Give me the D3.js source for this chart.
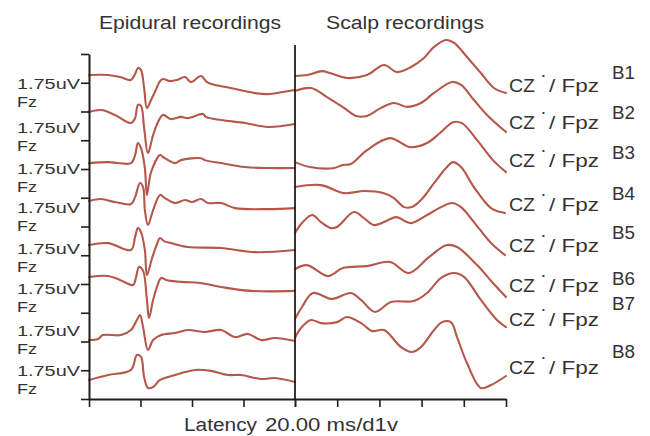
<!DOCTYPE html>
<html>
<head>
<meta charset="utf-8">
<script src="https://cdn.jsdelivr.net/npm/d3@7/dist/d3.min.js"></script>
<style>
  html, body { margin: 0; padding: 0; background: #ffffff; }
  svg { display: block; }
  text { font-family: "Liberation Sans", Arial, sans-serif; fill: #333; }
</style>
</head>
<body>
<svg id="chart" width="650" height="436"></svg>
<script>
// Block names, channel names and scale text
const blocks = ["B1", "B2", "B3", "B4", "B5", "B6", "B7", "B8"];
const epiduralChannel = "Fz";
const scalpChannelA = "CZ";
const scalpMark = "•";
const scalpChannelB = "/ Fpz";
const gainLabel = "1.75uV";
const latencyLabel = "Latency";
const divisionLabel = "20.00 ms/d1v";
const panelTitles = ["Epidural recordings", "Scalp recordings"];

// Axis divisions: 1.75 uV per vertical division, 20 ms per horizontal division
const uvPerDiv = 1.75;
const verticalDivs = 12;
const msPerDiv = 20;
const epiduralSpanMs = 80;
const scalpSpanMs = 100;

// Display offset of each trace's baseline (uV on the stacked scale)
const epiduralOffsets = [19.72, 17.47, 14.36, 12.05, 9.37, 7.43, 3.59, 1.16];
const scalpOffsets = [19.66, 18.75, 14.42, 12.90, 10.10, 7.91, 4.87, 3.71];

// Epidural waveforms: [latency ms, amplitude uV]
const epidural = [
  [[0,0],[7.4,0],[12.0,-0.12],[16.3,-0.30],[17.9,0.06],[19.0,0.43],[20.2,0.30],[21.4,-0.79],[22.5,-2.01],[24.1,-1.52],[25.6,-1.03],[27.6,-0.37],[28.7,-0.24],[31.5,-0.37],[34.2,-0.30],[37.3,-0.12],[39.6,-0.43],[43.5,-0.06],[45.8,-0.43],[48.9,-0.61],[53.2,-0.73],[58.6,-0.91],[64.5,-1.10],[69.5,-1.16],[75.3,-1.03],[80,-0.91]],
  [[0,0],[4.7,0.12],[10.1,-0.18],[16.3,-0.67],[17.9,-0.37],[19.0,0.43],[20.2,0.37],[21.4,-0.97],[22.9,-2.50],[24.9,-1.40],[26.8,-0.61],[28.7,-0.18],[31.8,-0.43],[35.7,-0.30],[38.4,-0.37],[44.3,-0.12],[45.4,-0.30],[51.3,-0.49],[60.6,-0.67],[69.5,-0.91],[80,-0.73]],
  [[0,0],[7.4,0.06],[16.3,0],[17.9,0.49],[19.0,1.22],[20.2,0.91],[21.7,-0.30],[22.5,-1.95],[24.1,-0.55],[27.6,0.49],[28.7,0.37],[33.4,0],[35.7,0.18],[43.5,0.30],[45.0,0.18],[51.3,0],[60.6,-0.24],[69.5,-0.30],[80,-0.30]],
  [[0,0],[4.7,0.12],[10.1,-0.06],[16.3,-0.18],[17.9,0.24],[19.8,1.10],[21.0,0.85],[21.7,-0.55],[22.9,-1.46],[24.9,-0.55],[27.6,0.37],[29.5,0.18],[33.4,-0.12],[37.3,0.06],[40.0,-0.06],[43.5,0.12],[46.2,-0.12],[51.3,-0.12],[56.7,-0.43],[69.5,-0.49],[80,-0.43]],
  [[0,0],[7.4,0.12],[16.3,-0.30],[17.9,0.49],[19.0,1.03],[20.2,0.79],[21.7,-0.30],[22.5,-1.83],[24.5,-0.79],[26.4,0.06],[27.6,0.43],[29.1,0.24],[31.8,0.12],[38.4,-0.12],[51.3,-0.18],[64.5,-0.43],[80,-0.30]],
  [[0,0],[7.4,0.06],[12.0,-0.18],[17.1,-0.49],[18.3,0],[19.4,0.61],[21.0,0.37],[22.5,-1.40],[23.3,-2.50],[24.9,-1.40],[26.4,-0.61],[28.0,-0.06],[29.9,-0.18],[35.7,-0.30],[43.1,-0.37],[51.3,-0.61],[62.9,-0.85],[80,-0.85]],
  [[0,0],[3.5,0.06],[5.4,0.30],[12.4,0.30],[16.3,0.61],[18.6,1.22],[19.8,1.52],[21.0,0.79],[22.9,-0.61],[24.9,0],[28.0,0.30],[33.4,0.43],[38.4,0.61],[45.0,0.49],[51.3,0.61],[56.7,0.18],[61.7,0.37],[66.8,0],[72.2,0.12],[80,-0.06]],
  [[0,0],[7.4,0.30],[16.3,0.61],[18.6,1.52],[20.2,1.40],[21.4,0.18],[22.9,-0.49],[24.9,-0.43],[27.6,0],[33.4,0.30],[41.2,0.61],[47.4,0.55],[54.0,0.30],[59.0,0.30],[66.8,0.06],[72.2,0.12],[80,-0.12]]
];

// Scalp waveforms: [latency ms, amplitude uV]
const scalp = [
  [[0,0],[5.7,0.06],[12.8,0.30],[16.6,0.18],[24.6,-0.12],[34.1,0.06],[42.2,0.67],[48.3,0.24],[55.0,0.55],[61.1,1.10],[65.9,1.77],[71.6,2.19],[75.4,2.01],[81.5,1.16],[88.1,0.18],[94.3,-0.73],[100,-1.03]],
  [[0,0],[7.6,0.18],[15.2,-0.37],[23.2,-1.03],[28.9,-1.52],[34.1,-1.52],[40.8,-1.03],[46.9,-0.73],[53.1,-0.97],[59.7,-0.73],[65.9,-0.12],[74.4,0.55],[78.7,0.37],[84.8,-0.55],[91.0,-1.46],[100,-2.50]],
  [[0,0],[7.1,-0.30],[18.0,-0.37],[22.7,-0.18],[26.5,-0.12],[34.1,0.73],[45.0,1.46],[54.5,0.91],[62.6,1.16],[68.7,1.77],[74.9,2.43],[79.1,2.37],[86.3,1.34],[93.8,0.12],[100,-0.61]],
  [[0,0],[12.3,0.12],[23.2,-0.37],[32.7,-0.24],[42.2,-0.37],[46.9,-0.67],[51.7,-1.22],[55.4,-1.22],[59.7,-0.79],[65.9,0.24],[71.6,1.16],[74.9,1.52],[78.7,1.22],[84.8,0],[92.9,-1.28],[99.5,-1.58]],
  [[0,0],[3.3,0.61],[8.1,1.10],[12.3,0.67],[17.1,0.30],[19.9,0.37],[28.0,1.28],[32.7,0.91],[37.4,0.49],[42.2,0.67],[47.9,0.97],[53.1,0.67],[55.4,0.61],[62.6,1.10],[69.2,1.58],[74.4,1.83],[78.7,1.58],[84.8,0.67],[92.9,-0.61],[99.5,-1.34]],
  [[0,0],[5.7,0.24],[15.6,-0.43],[22.7,0.06],[34.1,0.18],[45.0,0.43],[54.0,-0.24],[63.5,0.73],[72.0,1.46],[76.8,1.34],[86.3,0.24],[93.8,-0.85],[100,-1.70]],
  [[0,0],[3.3,0.73],[8.5,1.58],[17.5,1.22],[26.5,1.58],[31.3,1.16],[37.9,0.43],[45.5,1.03],[56.4,1.10],[62.6,1.58],[69.2,2.50],[75.4,2.80],[80.1,2.56],[88.1,1.16],[95.7,-0.06],[100,-0.49]],
  [[0,0],[2.8,0.61],[7.6,1.10],[12.3,0.91],[19.9,0.97],[24.6,1.28],[31.3,0.91],[36.5,0.43],[42.2,0.49],[50.2,-0.55],[55.4,-0.85],[59.7,-0.55],[65.9,0.49],[69.7,0.97],[73.9,0.97],[76.8,0.06],[81.5,-1.52],[88.1,-3.04],[92.9,-2.86],[100,-2.31]]
];

// ---- layout ----
const layout = {
  left: 89, mid: 295, right: 506, top: 54, bottom: 399, dividerTop: 45,
  gainBaselines: [89, 133, 174, 213, 254, 294, 336, 376],
  channelGap: 17.5,
  gainFont: 15.5,
  scalpLabelBaselines: [92, 129, 167, 211, 252, 292, 326, 374],
  blockBaselines: [79, 119, 159, 200, 239, 285, 310, 358]
};
const traceColor = "#b5574b";
const axisColor = "#1e1e1e";

const svg = d3.select("#chart");
svg.append("rect").attr("width", 650).attr("height", 436).attr("fill", "#ffffff");

const y = d3.scaleLinear().domain([0, uvPerDiv * verticalDivs]).range([layout.bottom, layout.top]);
const xEpi = d3.scaleLinear().domain([0, epiduralSpanMs]).range([layout.left, layout.mid]);
const xScalp = d3.scaleLinear().domain([0, scalpSpanMs]).range([layout.mid, layout.right]);

// traces
function drawTraces(set, offsets, x) {
  const line = d3.line()
    .x(d => x(d[0]))
    .y(d => d[2])
    .curve(d3.curveCatmullRom.alpha(0.5));
  svg.append("g").selectAll("path")
    .data(set.map((trace, i) => trace.map(p => [p[0], p[1], y(offsets[i] + p[1])])))
    .join("path")
    .attr("d", line)
    .attr("fill", "none")
    .attr("stroke", traceColor)
    .attr("stroke-width", 2.1)
    .attr("stroke-linejoin", "round")
    .attr("stroke-linecap", "round");
}
drawTraces(epidural, epiduralOffsets, xEpi);
drawTraces(scalp, scalpOffsets, xScalp);

// vertical amplitude axis
const yAxis = d3.axisLeft(y)
  .tickValues(d3.range(0, verticalDivs + 1).map(i => i * uvPerDiv))
  .tickSize(8).tickSizeOuter(0).tickFormat("");
const gy = svg.append("g").attr("transform", `translate(${layout.left},0)`).call(yAxis);

// latency axes, one per panel
const xAxisEpi = d3.axisBottom(xEpi)
  .tickValues(d3.range(0, epiduralSpanMs + 1, msPerDiv))
  .tickSize(8).tickSizeOuter(0).tickFormat("");
const xAxisScalp = d3.axisBottom(xScalp)
  .tickValues(d3.range(0, scalpSpanMs + 1, msPerDiv))
  .tickSize(8).tickSizeOuter(0).tickFormat("");
const gx1 = svg.append("g").attr("transform", `translate(0,${layout.bottom})`).call(xAxisEpi);
const gx2 = svg.append("g").attr("transform", `translate(0,${layout.bottom})`).call(xAxisScalp);

[gy, gx1, gx2].forEach(g => {
  g.selectAll("path.domain").attr("stroke", axisColor).attr("stroke-width", 2);
  g.selectAll(".tick line").attr("stroke", axisColor).attr("stroke-width", 1.6);
});

// divider between the two panels
svg.append("line")
  .attr("x1", layout.mid).attr("x2", layout.mid)
  .attr("y1", layout.dividerTop).attr("y2", layout.bottom)
  .attr("stroke", axisColor).attr("stroke-width", 1.8);

// helper for stretched text
function label(txt, x, yb, len, size = 18) {
  return svg.append("text")
    .attr("x", x).attr("y", yb)
    .attr("font-size", size)
    .attr("textLength", len)
    .attr("lengthAdjust", "spacingAndGlyphs")
    .text(txt);
}

// panel titles
label(panelTitles[0], 99, 29, 182);
label(panelTitles[1], 326, 29, 158);

// gain / channel labels on the left
layout.gainBaselines.forEach(b => {
  label(gainLabel, 17, b, 63, layout.gainFont);
  label(epiduralChannel, 17, b + layout.channelGap, 20, layout.gainFont);
});

// scalp channel labels (with raised marker) and block names
layout.scalpLabelBaselines.forEach(b => {
  label(scalpChannelA, 509, b, 26);
  svg.append("text").attr("x", 542).attr("y", b - 14).attr("font-size", 8).text(scalpMark);
  label(scalpChannelB, 549, b, 50);
});
blocks.forEach((name, i) => label(name, 612, layout.blockBaselines[i], 23));

// latency caption
label(latencyLabel, 184, 431, 73);
label(divisionLabel, 265, 431, 133);
</script>
</body>
</html>
